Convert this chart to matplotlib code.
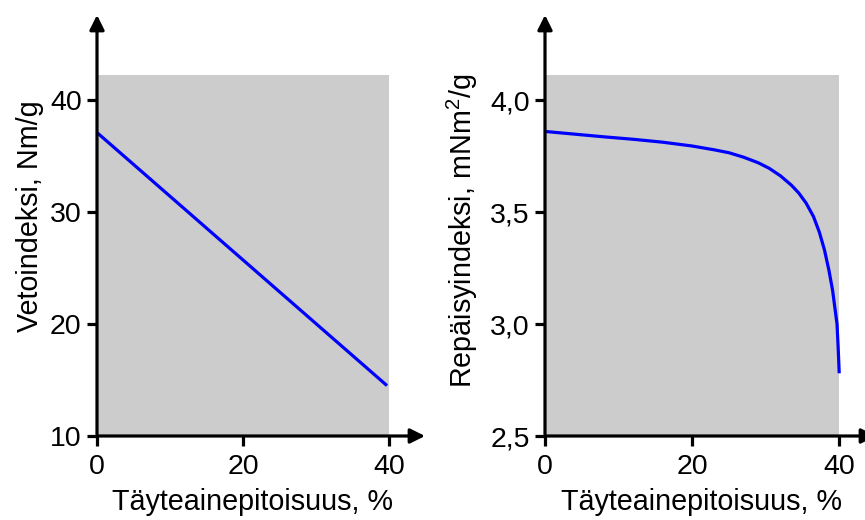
"""Filler content vs. tensile and tear index, two side-by-side panels."""
import matplotlib
matplotlib.use("Agg")
import matplotlib.pyplot as plt
from matplotlib.patches import Rectangle

plt.rcParams["font.family"] = ["Liberation Sans", "DejaVu Sans"]
plt.rcParams["mathtext.default"] = "regular"

# data
tensile_x = [0, 39.7]
tensile_y = [37.1, 14.5]

tear_x = [0, 4, 8, 12, 16, 20, 23, 25, 27, 29, 30.5, 32, 33.5, 34.5, 35.5,
          36.5, 37.3, 38, 38.6, 39.1, 39.5, 39.7, 39.85, 40]
tear_y = [3.86, 3.848, 3.836, 3.825, 3.812, 3.795, 3.778, 3.765, 3.745, 3.72,
          3.695, 3.662, 3.62, 3.585, 3.54, 3.48, 3.41, 3.33, 3.24, 3.15,
          3.05, 3.0, 2.9, 2.78]

x_ticks = [0, 20, 40]
left_yticks = [10, 20, 30, 40]
right_yticks = [2.5, 3.0, 3.5, 4.0]
right_ytick_labels = ["2,5", "3,0", "3,5", "4,0"]

xlabel = "Täyteainepitoisuus, %"
left_ylabel = "Vetoindeksi, Nm/g"
right_ylabel = "Repäisyindeksi, mNm$^2$/g"

FS = 20.5
LFS = 20.7
GRAY = "#cccccc"
BLUE = "#0000ff"
LW = 2.3


def setup_axes(ax, xlim, ylim, shade_top, xticks, yticks, ytick_labels):
    ax.set_xlim(*xlim)
    ax.set_ylim(*ylim)
    for s in ("top", "right", "left", "bottom"):
        ax.spines[s].set_visible(False)
    ax.add_patch(Rectangle((0, ylim[0]), 40, shade_top - ylim[0],
                           facecolor=GRAY, edgecolor="none", zorder=0))
    # arrowed axes
    for tip in ((1, 0), (0, 1)):
        ax.annotate("", xy=tip, xycoords="axes fraction", xytext=(0, 0),
                    arrowprops=dict(arrowstyle="-|>", lw=LW, color="black",
                                    mutation_scale=22, shrinkA=0, shrinkB=0),
                    annotation_clip=False, zorder=5)
    ax.set_xticks(xticks)
    ax.set_yticks(yticks)
    ax.set_yticklabels(ytick_labels)
    ax.tick_params(axis="both", direction="out", length=7, width=LW,
                   labelsize=FS)
    ax.tick_params(axis="x", pad=6)
    ax.tick_params(axis="y", pad=4)
    ax.set_facecolor("none")


fig = plt.figure(figsize=(8.65, 5.2), dpi=100)

# left panel
ax1 = fig.add_axes([97 / 865, 84 / 520, 328 / 865, 421 / 520])
setup_axes(ax1, (0, 44.9), (10, 47.6), 42.2, x_ticks, left_yticks,
           [str(v) for v in left_yticks])
ax1.plot(tensile_x, tensile_y, color=BLUE, lw=LW, solid_capstyle="butt", zorder=3)
ax1.set_xlabel(xlabel, fontsize=LFS, va="center")
ax1.xaxis.set_label_coords(0.473, -0.157)
ax1.set_ylabel(left_ylabel, fontsize=LFS, va="center")
ax1.yaxis.set_label_coords(-0.205, 0.523)

# right panel
ax2 = fig.add_axes([545 / 865, 84 / 520, 331 / 865, 421 / 520])
setup_axes(ax2, (0, 45), (2.5, 4.38), 4.11, x_ticks, right_yticks,
           right_ytick_labels)
ax2.plot(tear_x, tear_y, color=BLUE, lw=LW, solid_capstyle="butt",
         solid_joinstyle="round", zorder=3)
ax2.set_xlabel(xlabel, fontsize=LFS, va="center")
ax2.xaxis.set_label_coords(0.474, -0.157)
ax2.set_ylabel(right_ylabel, fontsize=LFS, va="center")
ax2.yaxis.set_label_coords(-0.25, 0.487)

fig.savefig("out.png", dpi=100)
